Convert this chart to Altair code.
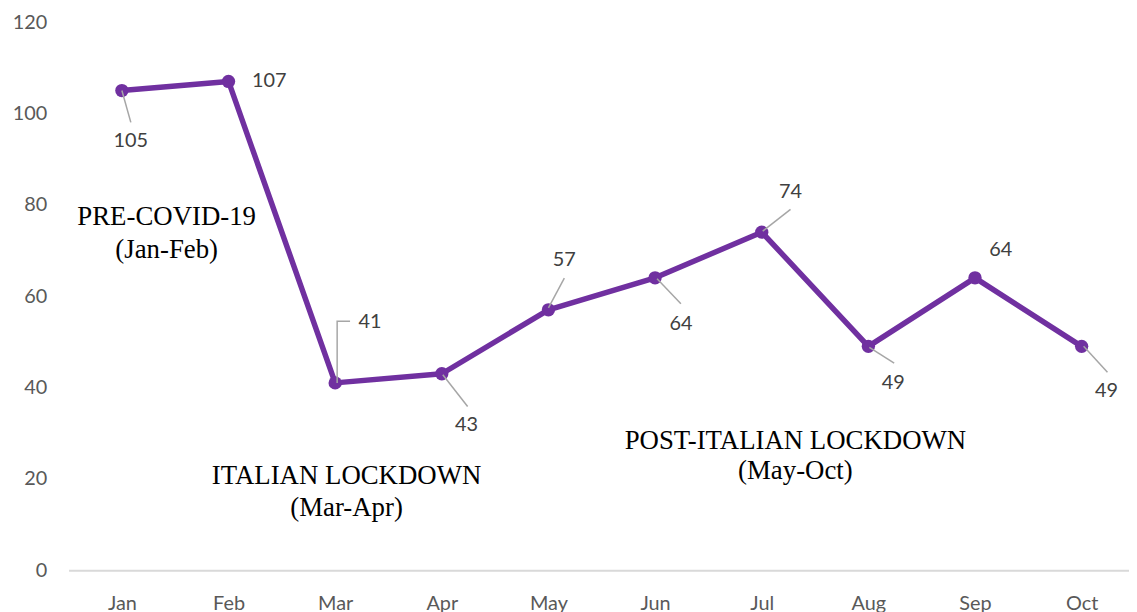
import altair as alt
import pandas as pd

# ---- data ----
months = ["Jan", "Feb", "Mar", "Apr", "May", "Jun", "Jul", "Aug", "Sep", "Oct"]
values = [105, 107, 41, 43, 57, 64, 74, 49, 64, 49]

# label offsets from each point (pixels: right, down)
label_dx = [9, 41, 35, 25, 16, 26, 29, 25, 26, 25]
label_dy = [51, 0, -61, 52, -50, 47, -40, 37, -28, 45]

# leader line vertices (pixel offsets from the point); empty = no leader
leaders = [
    [(0, 0), (9, 32)],
    [],
    [(2, 0), (2, -62), (15, -62)],
    [(1, 1), (26, 33)],
    [(0, -2), (16, -32)],
    [(2, 1), (26, 26)],
    [(1, -1), (29, -23)],
    [(1, 1), (26, 17)],
    [],
    [(2, 0), (26, 26)],
]

# period annotations (month index, value)
annot_text = ["PRE-COVID-19", "(Jan-Feb)", "ITALIAN LOCKDOWN", "(Mar-Apr)",
              "POST-ITALIAN LOCKDOWN", "(May-Oct)"]
annot_x = [0.42, 0.42, 2.107, 2.107, 6.316, 6.316]
annot_y = [77.2, 70.0, 20.6, 13.7, 28.3, 21.7]

# ---- layout ----
W, H = 1068, 552
XMIN, XMAX = -0.5, -0.5 + W / 107.4
YMIN, YMAX = 0, 120
PX_X = W / (XMAX - XMIN)
PX_Y = H / (YMAX - YMIN)

df = pd.DataFrame({"i": list(range(len(months))), "month": months, "v": values})
df["lx"] = df["i"] + pd.Series(label_dx) / PX_X
df["ly"] = df["v"] - pd.Series(label_dy) / PX_Y
df["lab"] = df["v"].astype(str)

rows = []
for i, segs in enumerate(leaders):
    for k, (dx, dy) in enumerate(segs):
        rows.append({"g": i, "o": k, "x": i + dx / PX_X, "y": values[i] - dy / PX_Y})
lead_df = pd.DataFrame(rows)

ann_df = pd.DataFrame({"t": annot_text, "x": annot_x, "y": annot_y})

label_expr = "[" + ",".join(f"'{m}'" for m in months) + "][datum.value]"

xscale = alt.Scale(domain=[XMIN, XMAX], nice=False, zero=False)
yscale = alt.Scale(domain=[YMIN, YMAX], nice=False)

x_axis = alt.Axis(values=list(range(len(months))), labelExpr=label_expr, title=None,
                  grid=False, ticks=False, domainColor="#d9d9d9", domainWidth=2,
                  labelFont="Lato", labelFontSize=20, labelColor="#595959",
                  labelPadding=24, labelFlush=False)
y_axis = alt.Axis(values=list(range(0, 121, 20)), title=None, grid=False, ticks=False,
                  domain=False, labelFont="Lato", labelFontSize=20,
                  labelColor="#595959", labelPadding=22)

base = alt.Chart(df)
line = base.mark_line(color="#7030A0", strokeWidth=5.5, strokeJoin="round").encode(
    x=alt.X("i:Q", scale=xscale, axis=x_axis),
    y=alt.Y("v:Q", scale=yscale, axis=y_axis),
)
pts = base.mark_circle(color="#7030A0", size=180, opacity=1).encode(
    x=alt.X("i:Q", scale=xscale), y=alt.Y("v:Q", scale=yscale)
)
lead = alt.Chart(lead_df).mark_line(color="#a6a6a6", strokeWidth=1.5).encode(
    x=alt.X("x:Q", scale=xscale), y=alt.Y("y:Q", scale=yscale),
    detail="g:N", order="o:Q",
)
labels = base.mark_text(font="Lato", fontSize=20, color="#404040",
                        align="center", baseline="middle").encode(
    x=alt.X("lx:Q", scale=xscale), y=alt.Y("ly:Q", scale=yscale), text="lab:N"
)
ann = alt.Chart(ann_df).mark_text(font="Liberation Serif", fontSize=27, color="#000000",
                                  align="center", baseline="middle").encode(
    x=alt.X("x:Q", scale=xscale), y=alt.Y("y:Q", scale=yscale), text="t:N"
)

chart = alt.layer(line, pts, lead, labels, ann).properties(
    width=W, height=H,
    background="white",
    autosize=alt.AutoSizeParams(type="none"),
    padding={"left": 61, "top": 12, "right": 0, "bottom": 40},
).configure_view(stroke=None, strokeWidth=0).configure_axisY(
    domain=False, grid=False, ticks=False
).configure_axisX(grid=False, ticks=False)

chart.save("out.html", embed_options={"renderer": "svg", "actions": False})
